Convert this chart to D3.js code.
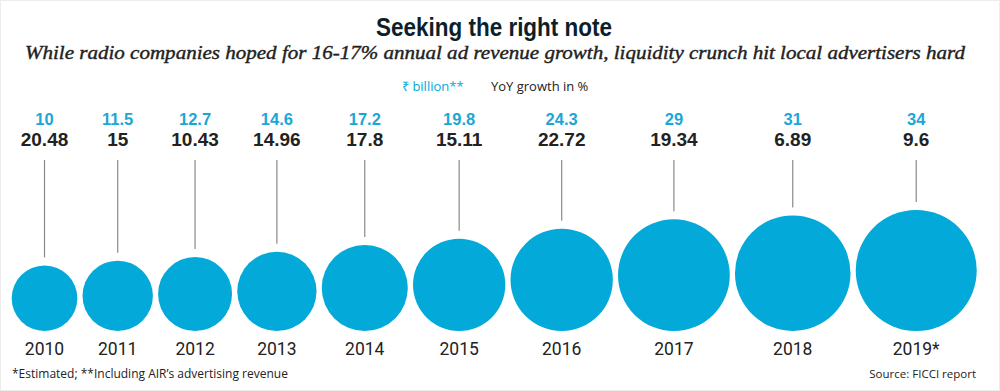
<!DOCTYPE html>
<html>
<head>
<meta charset="utf-8">
<script src="https://cdn.jsdelivr.net/npm/d3@7"></script>
<style>
  body { margin: 0; background: #fff; }
  svg { display: block; }
</style>
</head>
<body>
<div id="chart"></div>
<script>
// data
var years = ["2010", "2011", "2012", "2013", "2014", "2015", "2016", "2017", "2018", "2019*"]
var revenue = [10, 11.5, 12.7, 14.6, 17.2, 19.8, 24.3, 29, 31, 34]        // Rs billion
var growth = ["20.48", "15", "10.43", "14.96", "17.8", "15.11", "22.72", "19.34", "6.89", "9.6"] // YoY %

var width = 1000, height = 391
var blue = "#03a9d9"

var svg = d3.select("#chart").append("svg")
  .attr("width", width)
  .attr("height", height)

// faint frame
svg.append("rect")
  .attr("x", 0.5).attr("y", 0.5)
  .attr("width", width - 1).attr("height", height - 1)
  .attr("fill", "none").attr("stroke", "#ececec")

// condensed headline: squeeze a bold sans into the reference width
svg.append("text")
  .attr("x", 494).attr("y", 36)
  .attr("text-anchor", "middle")
  .attr("textLength", 236)
  .attr("lengthAdjust", "spacingAndGlyphs")
  .style("font-family", "'Liberation Sans', Arial, sans-serif")
  .style("font-weight", "bold")
  .style("font-size", "26px")
  .style("fill", "#0d1f2b")
  .text("Seeking the right note")

svg.append("text")
  .attr("x", 495).attr("y", 59)
  .attr("text-anchor", "middle")
  .attr("textLength", 940)
  .attr("lengthAdjust", "spacingAndGlyphs")
  .style("font-family", "'Liberation Serif', 'Times New Roman', serif")
  .style("font-style", "italic")
  .style("font-size", "19px")
  .style("fill", "#222")
  .style("stroke", "#222")
  .style("stroke-width", 0.4)
  .text("While radio companies hoped for 16-17% annual ad revenue growth, liquidity crunch hit local advertisers hard")

// legend
var legend = svg.append("g")
  .style("font-family", "'Open Sans', sans-serif")
  .style("font-size", "13px")
legend.append("text")
  .attr("x", 402).attr("y", 91)
  .style("fill", blue)
  .text("₹ billion**")
legend.append("text")
  .attr("x", 491).attr("y", 91)
  .style("fill", "#222")
  .text("YoY growth in %")

// circle area ~ value
var r = d3.scaleSqrt().domain([0, 34]).range([0, 60.5])
var baseY = 331, gap = 5.2, left = 11.7

var data = years.map(function (y, i) {
  return { year: y, value: revenue[i], growth: growth[i] }
})
var x0 = left
data.forEach(function (d) {
  d.r = r(d.value)
  d.cx = x0 + d.r
  d.cy = baseY - d.r
  x0 += 2 * d.r + gap
})

var g = svg.append("g")

g.selectAll("line.stem").data(data).enter().append("line")
  .attr("class", "stem")
  .attr("x1", function (d) { return d.cx })
  .attr("x2", function (d) { return d.cx })
  .attr("y1", 160)
  .attr("y2", function (d) { return d.cy - d.r - 8 })
  .attr("stroke", "#8a8a8a")
  .attr("stroke-width", 1.2)

g.selectAll("circle").data(data).enter().append("circle")
  .attr("cx", function (d) { return d.cx })
  .attr("cy", function (d) { return d.cy })
  .attr("r", function (d) { return d.r })
  .attr("fill", blue)

g.selectAll("text.val").data(data).enter().append("text")
  .attr("class", "val")
  .attr("x", function (d) { return d.cx })
  .attr("y", 124.5)
  .attr("text-anchor", "middle")
  .style("font-family", "'Liberation Sans', Arial, sans-serif")
  .style("font-weight", "bold")
  .style("font-size", "16.5px")
  .style("fill", "#1ba7d6")
  .text(function (d) { return d.value })

g.selectAll("text.growth").data(data).enter().append("text")
  .attr("class", "growth")
  .attr("x", function (d) { return d.cx })
  .attr("y", 145.5)
  .attr("text-anchor", "middle")
  .style("font-family", "'Liberation Sans', Arial, sans-serif")
  .style("font-weight", "bold")
  .style("font-size", "19px")
  .style("fill", "#222")
  .text(function (d) { return d.growth })

g.selectAll("text.year").data(data).enter().append("text")
  .attr("class", "year")
  .attr("x", function (d) { return d.cx })
  .attr("y", 355)
  .attr("text-anchor", "middle")
  .style("font-family", "Roboto, sans-serif")
  .style("font-size", "17.5px")
  .style("fill", "#222")
  .text(function (d) { return d.year })

svg.append("text")
  .attr("x", 12).attr("y", 378)
  .style("font-family", "'Open Sans', sans-serif")
  .style("font-size", "12px")
  .style("fill", "#222")
  .text("*Estimated; **Including AIR’s advertising revenue")

svg.append("text")
  .attr("x", 976).attr("y", 378)
  .attr("text-anchor", "end")
  .style("font-family", "'Open Sans', sans-serif")
  .style("font-size", "11.5px")
  .style("fill", "#222")
  .text("Source: FICCI report")
</script>
</body>
</html>
